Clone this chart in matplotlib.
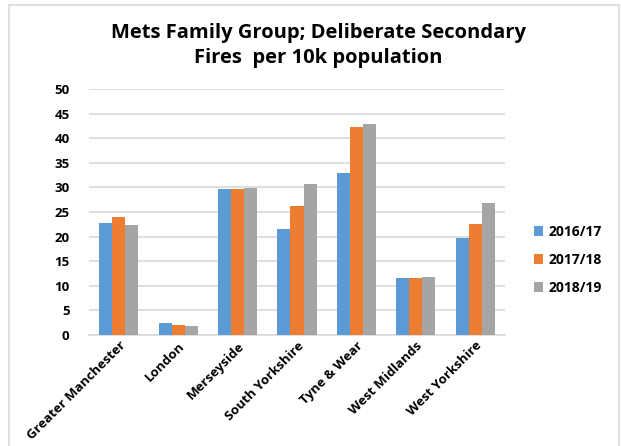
import matplotlib
matplotlib.use("Agg")
import matplotlib.pyplot as plt
import numpy as np
from matplotlib.patches import Rectangle

plt.rcParams['font.family'] = ['Open Sans', 'DejaVu Sans']

categories = ["Greater Manchester", "London", "Merseyside", "South Yorkshire",
              "Tyne & Wear", "West Midlands", "West Yorkshire"]
series_names = ["2016/17", "2017/18", "2018/19"]
v_2016 = [22.8, 2.4, 29.7, 21.5, 33.0, 11.5, 19.8]
v_2017 = [24.0, 2.0, 29.7, 26.2, 42.3, 11.5, 22.6]
v_2018 = [22.4, 1.9, 29.9, 30.7, 42.9, 11.8, 26.8]
colors = ["#5B9BD5", "#ED7D31", "#A5A5A5"]
yticks = [0, 5, 10, 15, 20, 25, 30, 35, 40, 45, 50]

fig = plt.figure(figsize=(6.21, 4.46), dpi=100)
W, H = 621, 446
ax = fig.add_axes([89 / W, 1 - 335 / H, (505 - 89) / W, (335 - 89) / H])

x = np.arange(len(categories))
bw = 0.22
for i, (vals, name) in enumerate(zip([v_2016, v_2017, v_2018], series_names)):
    ax.bar(x + (i - 1) * bw, vals, width=bw, color=colors[i], label=name, zorder=3)

ax.set_xlim(-0.5, len(categories) - 0.5)
ax.set_ylim(0, 50)
ax.set_yticks(yticks)
ax.set_yticklabels([str(t) for t in yticks], fontsize=9.5, fontweight='bold')
ax.yaxis.grid(True, color='#D9D9D9', linewidth=1.2, zorder=0)
ax.set_xticks(x)
ax.set_xticklabels(categories, rotation=45, ha='right', rotation_mode='anchor',
                   fontsize=9.5, fontweight='bold')
for s in ['top', 'right', 'left']:
    ax.spines[s].set_visible(False)
ax.spines['bottom'].set_color('#D9D9D9')
ax.spines['bottom'].set_linewidth(1.2)
ax.tick_params(axis='both', length=0)
ax.tick_params(axis='y', pad=14)
ax.tick_params(axis='x', pad=3)

fig.text(0.5 + 8 / W, 1 - 33 / H, "Mets Family Group; Deliberate Secondary",
         ha='center', va='center', fontsize=14.5, fontweight='bold')
fig.text(0.5 + 8 / W, 1 - 58 / H, "Fires  per 10k population",
         ha='center', va='center', fontsize=14.5, fontweight='bold')

leg = ax.legend(loc='center left', bbox_to_anchor=(521 / W, 1 - 260 / H),
                bbox_transform=fig.transFigure, frameon=False,
                prop={'weight': 'bold', 'size': 10}, handlelength=0.7,
                handleheight=0.7, handletextpad=0.4, labelspacing=1.0)

fig.patches.append(Rectangle((9 / W, -0.01), (619 - 9) / W, 1 - 5 / H + 0.01,
                             transform=fig.transFigure, fill=False,
                             edgecolor='#D9D9D9', linewidth=1.2))

fig.savefig("out.png", dpi=100)
